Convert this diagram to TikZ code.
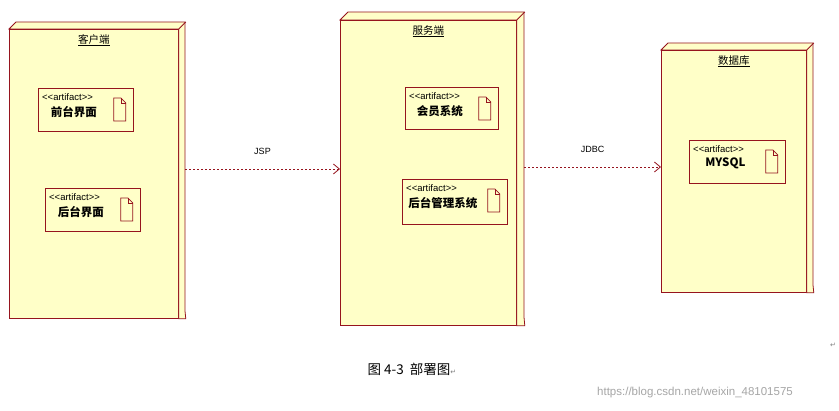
\documentclass[tikz,border=0pt]{standalone}
\usepackage{fontspec}
\setmainfont{Liberation Sans}
\newfontfamily\cjk{Noto Sans CJK SC}
\newfontfamily\dvsans{DejaVu Sans}
\usetikzlibrary{arrows.meta}
\definecolor{umlred}{RGB}{150,20,30}
\definecolor{umlfill}{RGB}{255,255,200}
\tikzset{
 x=1pt,y=-1pt,
 nodebox/.style={draw=umlred,fill=umlfill,line width=0.8pt,anchor=north west,inner sep=0pt},
 artbox/.style={draw=umlred,fill=umlfill,line width=0.8pt,anchor=north west,inner sep=0pt},
 dep/.style={draw=umlred,dashed,dash pattern=on 2pt off 2pt,line width=0.8pt,-{Straight Barb[length=6pt,width=10pt]}},
}
\newcommand{\tdnode}[7]{% name, x, y, w, h, d, title
 \node[nodebox,minimum width=#4pt,minimum height=#5pt] (#1) at (#2,#3) {};
 \draw[umlred,fill=umlfill,line width=0.8pt] (#1.north west) -- ++(#6,-#6) -- ++(#4,0) -- ++(0,#5) -- ([xshift=#6pt,yshift=0pt]#1.south east) -- (#1.south east) -- (#1.north east) -- cycle;
 \draw[umlred,line width=0.8pt] (#1.north east) -- ++(#6,-#6);
 \node[font=\cjk\fontsize{10.5}{11}\selectfont,anchor=north,inner sep=0pt] at ([yshift=-5pt]#1.north) {\underline{#7}};
}
\newcommand{\art}[6]{% name x y w h label
 \node[artbox,minimum width=#4pt,minimum height=#5pt] (#1) at (#2,#3) {};
 \node[anchor=north west,font=\fontsize{9.5}{10}\selectfont,inner sep=0pt] at ([xshift=4pt,yshift=-5pt]#1.north west) {<{}<artifact>{}>};
 \node[anchor=north,font=\cjk\bfseries\fontsize{11.5}{12}\selectfont,inner sep=0pt] at ([xshift=-12pt,yshift=-18pt]#1.north) {#6};
 \draw[umlred,line width=0.7pt] ([xshift=-20pt,yshift=-10pt]#1.north east) -- ++(0,23) -- ++(12,0) -- ++(0,-18) -- ++(-5,-5) -- cycle;
 \draw[umlred,line width=0.6pt] ([xshift=-13pt,yshift=-10pt]#1.north east) -- ++(0,5) -- ++(5,0);
}
\begin{document}
\begin{tikzpicture}
\useasboundingbox[fill=white] (0,0) rectangle (839,411);
\tdnode{client}{9}{29}{169}{289}{7}{客户端}
\tdnode{server}{340}{20}{176}{305}{8}{服务端}
\tdnode{db}{661}{50}{145}{242}{7}{数据库}
\art{a1}{38}{88}{95}{43}{前台界面}
\art{a2}{45}{188}{95}{43}{后台界面}
\art{a3}{405}{87}{93}{42}{会员系统}
\art{a4}{402}{179}{105}{45}{后台管理系统}
\art{a5}{689}{140}{96}{43}{MYSQL}
\coordinate (c1) at (185,169);
\coordinate (s1) at (340,169);
\coordinate (s2) at (524,167);
\coordinate (d1) at (661,167);
\draw[dep] (c1) -- node[above=11pt,font=\fontsize{9}{10}\selectfont] {JSP} (s1);
\draw[dep] (s2) -- node[above=11pt,font=\fontsize{9}{10}\selectfont] {JDBC} (d1);
\node[font=\cjk\fontsize{13.5}{14}\selectfont] (cap) at (412,369) {图 4-3 \ 部署图\textcolor{gray}{\dvsans\fontsize{7}{8}\selectfont ↵}};
\node[font=\dvsans\fontsize{7}{8}\selectfont,text=gray] (ret) at (833,345) {↵};
\node[font=\fontsize{11.5}{12}\selectfont,text=gray!70] (wm) at (695,393) {https://blog.csdn.net/weixin\_48101575};
\end{tikzpicture}
\end{document}
